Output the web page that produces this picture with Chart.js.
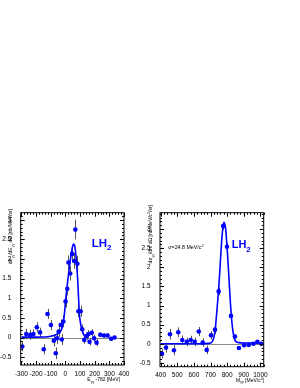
<!DOCTYPE html>
<html><head><meta charset="utf-8">
<script src="https://cdn.jsdelivr.net/npm/chart.js@4.4.0/dist/chart.umd.min.js"></script>
<style>
html,body{margin:0;padding:0;background:#fff;}
#wrap{position:relative;width:300px;height:388px;}
canvas{position:absolute;top:0;}
#cL{left:0;} #cR{left:130px;}
</style></head><body>
<div id="wrap"><canvas id="cL" width="145" height="388"></canvas><canvas id="cR" width="170" height="388"></canvas></div>
<script>
// left panel: E_gg - 782 [MeV]
const leftE   = [-294,-267,-240,-218,-195,-173,-148,-122,-99,-79,-66,-57,-46,-32,-25,-14,1,13,21,33,46,60,68,82,89,104,115,129,145,157,165,180,196,213,238,263,288,312,335];
const leftY   = [-0.23,0.09,0.07,0.09,0.26,0.13,-0.30,0.60,0.32,-0.08,-0.40,-0.02,0.15,0.32,-0.05,0.41,0.92,1.24,1.91,1.63,2.13,1.95,2.75,1.88,0.67,0.67,0.21,-0.06,0.04,0.09,-0.11,0.12,-0.02,-0.13,0.07,0.05,0.05,-0.03,0.0];
const leftErr = [0.12,0.13,0.13,0.12,0.13,0.12,0.13,0.13,0.13,0.15,0.15,0.15,0.14,0.14,0.14,0.15,0.16,0.17,0.18,0.18,0.2,0.2,0.25,0.2,0.15,0.14,0.12,0.1,0.1,0.1,0.09,0.09,0.09,0.09,0.06,0.06,0.06,0.05,0.04];
const leftFitE = [-300,-200,-120,-80,-50,-30,-17,-8,1,10,17,25,33,46,55,62,68,76,84,90,95,104,113,129,150];
const leftFitY = [0.01,0.01,0.02,0.05,0.1,0.18,0.32,0.55,0.92,1.25,1.47,1.72,1.95,2.27,2.38,2.35,2.23,1.9,1.47,1.0,0.62,0.35,0.2,0.05,0.01];
const leftXTicks = [-300,-200,-100,0,100,200,300,400];
const leftYTicks = [-0.5,0,0.5,1,1.5,2,2.5,3];

// right panel: M_gg [MeV/c2]
const rightM   = [408,432,456,480,506,530,557,581,605,629,653,677,703,727,749,776,799,823,847,871,902,930,958,982,1006];
const rightY   = [-0.26,-0.10,0.25,-0.17,0.30,0.10,0.05,0.10,0.05,0.32,0.03,-0.16,0.22,0.37,1.37,3.08,2.54,0.73,0.19,-0.11,-0.04,-0.03,0.0,0.05,0.0];
const rightErr = [0.13,0.13,0.14,0.13,0.13,0.12,0.11,0.11,0.11,0.12,0.11,0.11,0.11,0.11,0.1,0.1,0.1,0.08,0.06,0.04,0.04,0.03,0.03,0.03,0.03];
const rightFitM = [400,650,690,710,727,739,750,760,770,780,790,800,810,820,830,840,850,870,900,1000];
const rightFitY = [0.0,0.0,0.01,0.05,0.33,0.9,1.5,2.2,2.85,3.18,3.05,2.5,1.8,1.05,0.5,0.2,0.07,0.03,0.02,0.02];
const rightXTicks = [400,500,600,700,800,900,1000];
const rightYTicks = [-0.5,0,0.5,1,1.5,2,2.5,3];

const leftXRange = [-305, 400], leftYRange = [-0.7, 3.18];
const rightXRange = [396, 1020], rightYRange = [-0.6, 3.43];

const FONT = "'Liberation Sans', Arial, sans-serif";
const BLUE = '#0000ff';

// parts: [text, 0 normal | 1 subscript | 2 superscript]
function drawRich(ctx, parts, x, y, size, align, rot, color, bold) {
  const f = s => (bold ? 'bold ' : '') + s + 'px ' + FONT;
  let total = 0;
  parts.forEach(p => { ctx.font = f(p[1] ? size * 0.7 : size); total += ctx.measureText(p[0]).width; });
  ctx.save();
  ctx.translate(x, y);
  ctx.rotate(rot || 0);
  ctx.fillStyle = color || '#000';
  ctx.textBaseline = 'alphabetic';
  ctx.textAlign = 'left';
  let cx = align === 'right' ? -total : 0;
  parts.forEach(p => {
    const s = p[1] ? size * 0.7 : size;
    ctx.font = f(s);
    const dy = p[1] === 1 ? size * 0.3 : p[1] === 2 ? -size * 0.4 : 0;
    ctx.fillText(p[0], cx, dy);
    cx += ctx.measureText(p[0]).width;
  });
  ctx.restore();
}

// zero line, error bars, frame with inward ticks, text
const frame = {
  id: 'frame',
  beforeDatasetsDraw(chart) {
    const {ctx, chartArea: a, scales: {x, y}} = chart;
    const o = chart.options.plugins.frame;
    ctx.save();
    const y0 = Math.round(y.getPixelForValue(0)) + 0.5;
    ctx.strokeStyle = '#8a8a8a'; ctx.lineWidth = 1;
    ctx.beginPath(); ctx.moveTo(a.left, y0); ctx.lineTo(a.right, y0); ctx.stroke();
    ctx.strokeStyle = '#555';
    o.xs.forEach((v, i) => {
      const px = Math.round(x.getPixelForValue(v)) + 0.5;
      ctx.beginPath();
      ctx.moveTo(px, y.getPixelForValue(o.ys[i] - o.err[i]));
      ctx.lineTo(px, y.getPixelForValue(o.ys[i] + o.err[i]));
      ctx.stroke();
    });
    ctx.restore();
  },
  afterDraw(chart) {
    const {ctx, chartArea: a, scales: {x, y}} = chart;
    const o = chart.options.plugins.frame;
    ctx.save();
    ctx.strokeStyle = '#000'; ctx.lineWidth = 1;
    ctx.strokeRect(a.left, a.top, a.right - a.left, a.bottom - a.top);
    ctx.beginPath();
    for (let k = Math.ceil(x.min / o.xMinor); k * o.xMinor <= x.max; k++) {
      const L = k % 5 === 0 ? 4 : 2;
      const px = Math.round(x.getPixelForValue(k * o.xMinor)) + 0.5;
      ctx.moveTo(px, a.bottom); ctx.lineTo(px, a.bottom - L);
      ctx.moveTo(px, a.top); ctx.lineTo(px, a.top + L);
    }
    for (let k = Math.ceil(y.min / o.yMinor); k * o.yMinor <= y.max; k++) {
      const L = k % 5 === 0 ? 4 : 2;
      const py = Math.round(y.getPixelForValue(k * o.yMinor)) + 0.5;
      ctx.moveTo(a.left, py); ctx.lineTo(a.left + L, py);
      ctx.moveTo(a.right, py); ctx.lineTo(a.right - L, py);
    }
    ctx.stroke();
    ctx.restore();
    o.texts.forEach(t => drawRich(ctx, t.parts, t.x, t.y, t.size, t.align, t.rot, t.color, t.bold));
  }
};

function makeChart(id, xs, ys, err, fx, fy, xr, yr, xt, yt, pad, yW, texts) {
  return new Chart(document.getElementById(id), {
    type: 'scatter',
    data: {
      datasets: [
        { data: fx.map((v, i) => ({x: v, y: fy[i]})), showLine: true, borderColor: BLUE, borderWidth: 1.6,
          pointRadius: 0, cubicInterpolationMode: 'monotone', fill: false, order: 2 },
        { data: xs.map((v, i) => ({x: v, y: ys[i]})), backgroundColor: BLUE, borderWidth: 0,
          pointRadius: 2.3, order: 1 }
      ]
    },
    options: {
      responsive: false, animation: false, devicePixelRatio: 1,
      layout: { padding: pad },
      plugins: {
        legend: { display: false }, tooltip: { enabled: false },
        frame: { xs: xs, ys: ys, err: err, xMinor: 20, yMinor: 0.1, texts: texts }
      },
      scales: {
        x: { type: 'linear', min: xr[0], max: xr[1],
             grid: { display: false, drawTicks: false }, border: { display: false },
             afterBuildTicks(s) { s.ticks = xt.map(v => ({value: v})); },
             ticks: { autoSkip: false, maxRotation: 0, minRotation: 0, padding: 5,
                      color: '#000', font: { size: 6.5, family: FONT }, callback: v => String(v) },
             afterFit(s) { s.height = 18; } },
        y: { type: 'linear', min: yr[0], max: yr[1],
             grid: { display: false }, border: { display: false },
             afterBuildTicks(s) { s.ticks = yt.map(v => ({value: v})); },
             ticks: { autoSkip: false, padding: 1.4,
                      color: '#000', font: { size: 6.5, family: FONT }, callback: v => String(v) },
             afterFit(s) { s.width = yW; } }
      }
    },
    plugins: [frame]
  });
}

makeChart('cL', leftE, leftY, leftErr, leftFitE, leftFitY, leftXRange, leftYRange, leftXTicks, leftYTicks,
  { left: 0, top: 212.7, right: 21, bottom: 5 }, 20.7, [
    { parts: [['dσ',0],['γγ',1],['/dE',0],['γγ',1],[' dΩ [nb/MeV/sr]',0]], x: 12.2, y: 209, size: 5, align: 'right', rot: -Math.PI / 2 },
    { parts: [['E',0],['γγ',1],[' -782 [MeV]',0]], x: 120, y: 381, size: 5, align: 'right' },
    { parts: [['LH',0],['2',1]], x: 91.7, y: 246.7, size: 11.5, color: BLUE, bold: true }
  ]);

makeChart('cR', rightM, rightY, rightErr, rightFitM, rightFitY, rightXRange, rightYRange, rightXTicks, rightYTicks,
  { left: 0, top: 212.7, right: 36.3, bottom: 3.3 }, 30, [
    { parts: [['dσ',0],['γγ',1],['/dm dΩ [nb/MeV/c',0],['2',2],['/sr]',0]], x: 22.2, y: 205, size: 5, align: 'right', rot: -Math.PI / 2 },
    { parts: [['M',0],['γγ',1],[' [MeV/c',0],['2',2],[']',0]], x: 134, y: 381.5, size: 5, align: 'right' },
    { parts: [['LH',0],['2',1]], x: 101.7, y: 248.3, size: 11, color: BLUE, bold: true },
    { parts: [['σ=24.8 MeV/c',0],['2',2]], x: 38.3, y: 249, size: 5.3 }
  ]);
</script></body></html>
